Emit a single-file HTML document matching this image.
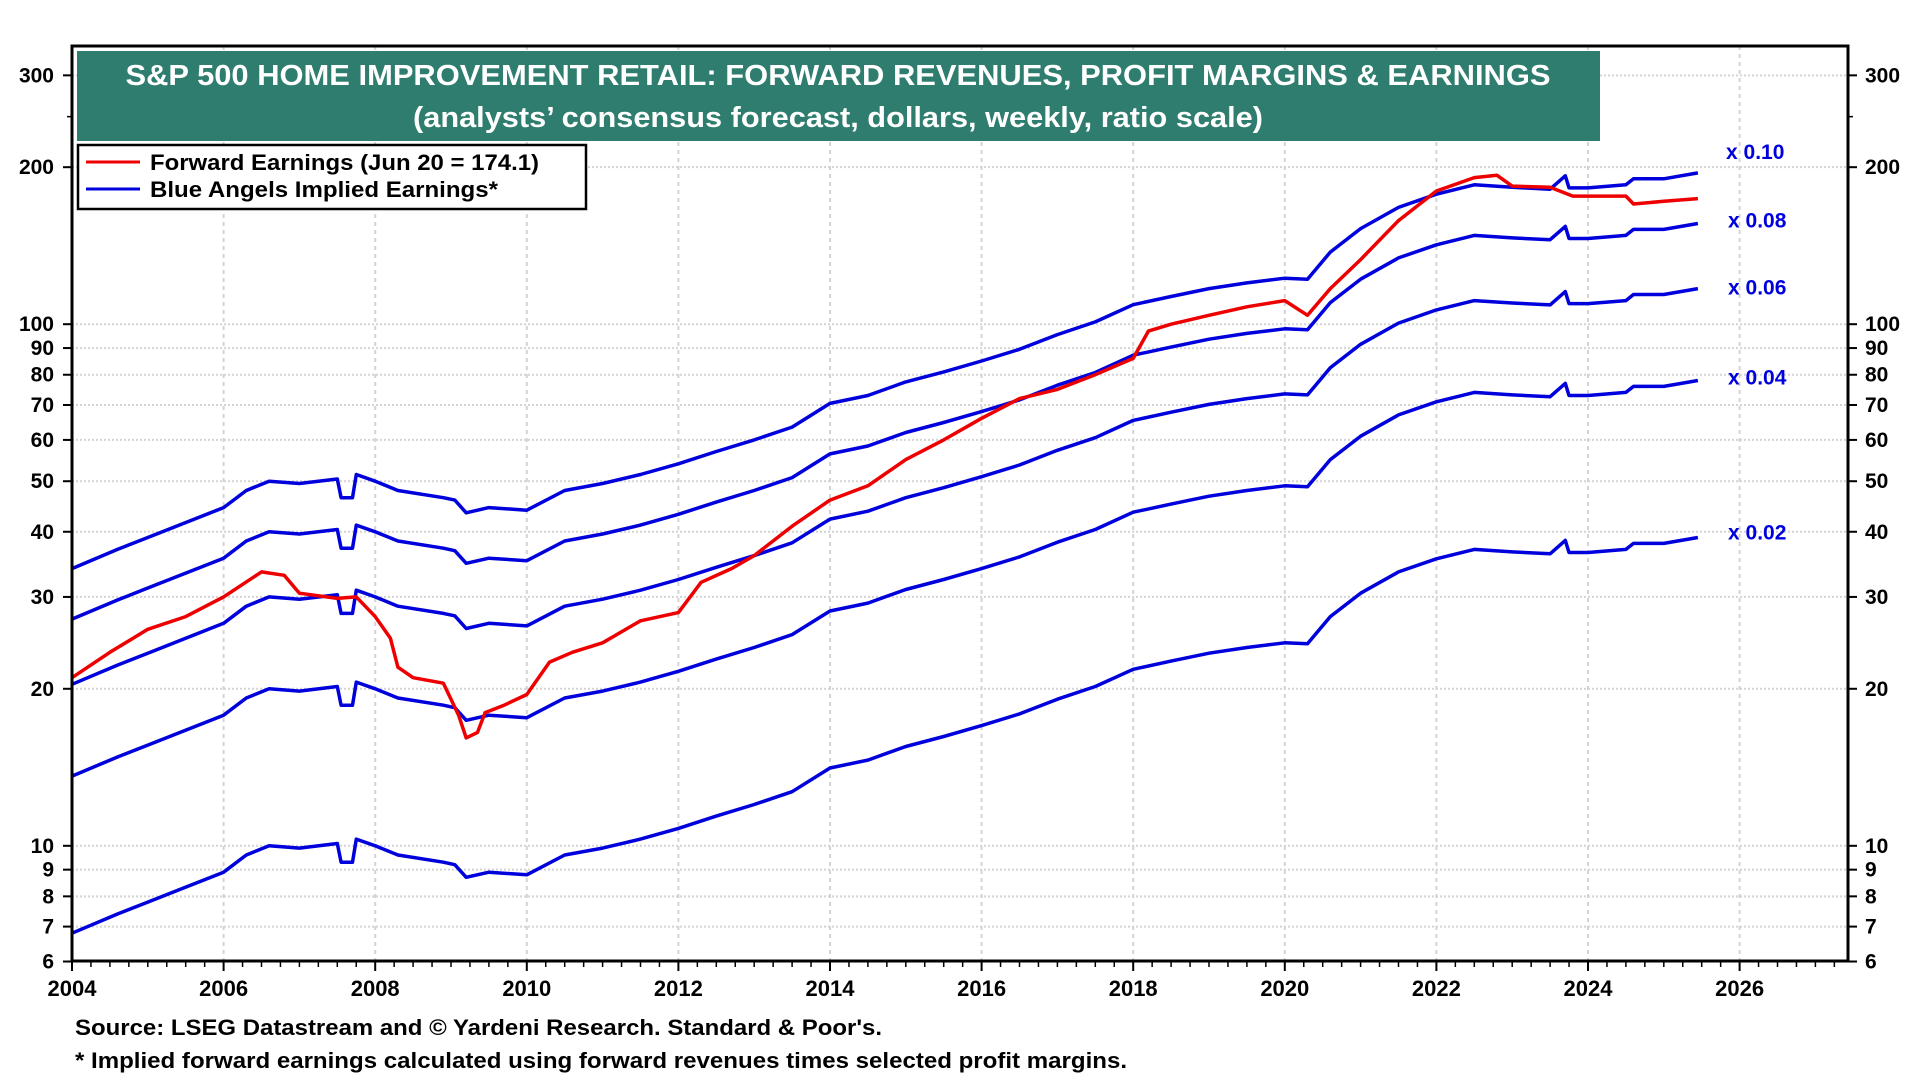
<!DOCTYPE html>
<html><head><meta charset="utf-8">
<style>
html,body{margin:0;padding:0;background:#fff;}
svg{display:block;font-family:"Liberation Sans",Arial,sans-serif;font-weight:bold;}
</style></head>
<body>
<svg id="chart" width="1920" height="1080" viewBox="0 0 1920 1080" xmlns="http://www.w3.org/2000/svg">
<g id="grid"></g>
<g id="series"></g>
<g id="axes"></g>
<rect x="77" y="51" width="1523" height="90" fill="#2e7d6f"/>
<text x="838" y="85" text-anchor="middle" fill="#fff" font-size="29" textLength="1425" lengthAdjust="spacingAndGlyphs">S&amp;P 500 HOME IMPROVEMENT RETAIL: FORWARD REVENUES, PROFIT MARGINS &amp; EARNINGS</text>
<text x="838" y="127" text-anchor="middle" fill="#fff" font-size="29" textLength="850" lengthAdjust="spacingAndGlyphs">(analysts’ consensus forecast, dollars, weekly, ratio scale)</text>
<g>
<rect x="78" y="145" width="508" height="64" fill="#fff" stroke="#000" stroke-width="2.5"/>
<line x1="86" y1="162" x2="140" y2="162" stroke="#e00" stroke-width="3"/>
<text x="150" y="170" font-size="22" textLength="389" lengthAdjust="spacingAndGlyphs">Forward Earnings (Jun 20 = 174.1)</text>
<line x1="86" y1="189" x2="140" y2="189" stroke="#0000dd" stroke-width="3"/>
<text x="150" y="197" font-size="22" textLength="348" lengthAdjust="spacingAndGlyphs">Blue Angels Implied Earnings*</text>
</g>
<text x="75" y="1035" font-size="22" textLength="807" lengthAdjust="spacingAndGlyphs">Source: LSEG Datastream and © Yardeni Research. Standard &amp; Poor's.</text>
<text x="75" y="1068" font-size="22" textLength="1052" lengthAdjust="spacingAndGlyphs">* Implied forward earnings calculated using forward revenues times selected profit margins.</text>
</svg>
<script>
const revYears=[2004,2004.6,2005,2006,2006.3,2006.6,2007,2007.5,2007.55,2007.7,2007.75,2008,2008.3,2008.9,2009.05,2009.2,2009.5,2010,2010.5,2011,2011.5,2012,2012.5,2013,2013.5,2014,2014.5,2015,2015.5,2016,2016.5,2017,2017.5,2018,2018.5,2019,2019.5,2020,2020.3,2020.6,2021,2021.5,2022,2022.5,2023,2023.5,2023.7,2023.75,2024,2024.5,2024.6,2025,2025.45];
const revValues=[340,370,390,445,480,500,495,505,465,465,515,500,480,465,460,435,445,440,480,495,515,540,570,600,635,705,730,775,810,850,895,955,1010,1090,1130,1170,1200,1225,1220,1375,1525,1675,1775,1850,1830,1815,1925,1825,1825,1850,1900,1900,1950];
const margins=[0.10,0.08,0.06,0.04,0.02];
const marginLabels=["x 0.10","x 0.08","x 0.06","x 0.04","x 0.02"];
const fwdYears=[2004,2004.5,2005,2005.5,2006,2006.5,2006.8,2007,2007.5,2007.75,2008,2008.2,2008.3,2008.5,2008.9,2009.1,2009.2,2009.35,2009.45,2009.7,2010,2010.3,2010.6,2011,2011.5,2012,2012.3,2012.7,2013,2013.5,2014,2014.5,2015,2015.5,2016,2016.5,2017,2017.5,2018,2018.2,2018.5,2019,2019.5,2020,2020.3,2020.6,2021,2021.5,2022,2022.5,2022.8,2023,2023.5,2023.8,2024,2024.5,2024.6,2025,2025.45];
const fwdValues=[21,23.5,26,27.5,30,33.5,33,30.5,29.8,30,27.5,25,22,21,20.5,17.8,16.1,16.5,18,18.6,19.5,22.5,23.5,24.5,27,28,32,34,36,41,46,49,55,60,66,72,75,80,86,97,100,104,108,111,104,117,133,158,180,191,193,184,183,176,176,176,170,172,174.1];
const yTicks=[6,7,8,9,10,20,30,40,50,60,70,80,90,100,200,300];
const xTicks=[2004,2006,2008,2010,2012,2014,2016,2018,2020,2022,2024,2026];

const NS="http://www.w3.org/2000/svg";
const L=72,R=1848,T=46,B=961;
function xs(y){return 72+(y-2004)*75.8;}
function ys(v){return 845.8-(Math.log10(v)-1)*521.6;}
function mk(tag,attrs,parent){const e=document.createElementNS(NS,tag);for(const k in attrs)e.setAttribute(k,attrs[k]);parent.appendChild(e);return e;}
const grid=document.getElementById('grid'),series=document.getElementById('series'),axes=document.getElementById('axes');

yTicks.forEach(v=>{if(v===6)return;const y=ys(v);
 const g=mk('line',{x1:L,x2:R,y1:y,y2:y,stroke:'#d4d4d4','stroke-width':2,'stroke-dasharray':'2,2'},grid);
 
 });
xTicks.forEach(t=>{if(t===2004)return;const x=xs(t);
 const g=mk('line',{x1:x,x2:x,y1:T,y2:B,stroke:'#d4d4d4','stroke-width':2,'stroke-dasharray':'4,4'},grid);
 
 });

margins.forEach((m,i)=>{
 const pts=revYears.map((yr,j)=>xs(yr).toFixed(1)+','+ys(revValues[j]*m).toFixed(1)).join(' ');
 const p=mk('polyline',{points:pts,fill:'none',stroke:'#0000dd','stroke-width':3.5,'stroke-linejoin':'round'},series);
 
 
 const lastV=revValues[revValues.length-1]*m;
 const t=mk('text',{x:1726+(i>=1?2:0),y:ys(lastV)-(i===0?14:i===1?-4:i===4?-2:0)+ (i===2?6:i===3?4:0),fill:'#0000dd','font-size':21},series);
 t.textContent=marginLabels[i];
 
 
});
const fp=mk('polyline',{points:fwdYears.map((yr,j)=>xs(yr).toFixed(1)+','+ys(fwdValues[j]).toFixed(1)).join(' '),fill:'none',stroke:'#e00','stroke-width':3.5,'stroke-linejoin':'round'},series);



const fr=mk('rect',{x:L,y:T,width:R-L,height:B-T,fill:'none',stroke:'#000','stroke-width':3},axes);


const minors=[];for(let d of [1,10,100])for(let k=1;k<10;k++){const v=d*k;if(v>=6&&v<=340)minors.push(v);}
for(let k=2;k<10;k++){minors.push(100*k+50);}
minors.forEach(v=>{if(v>340)return;const y=ys(v);
 mk('line',{x1:L-5,x2:L,y1:y,y2:y,stroke:'#000','stroke-width':1.5},axes);
 mk('line',{x1:R,x2:R+5,y1:y,y2:y,stroke:'#000','stroke-width':1.5},axes);});
yTicks.forEach(v=>{const y=ys(v);
 mk('line',{x1:L-9,x2:L,y1:y,y2:y,stroke:'#000','stroke-width':2},axes);
 mk('line',{x1:R,x2:R+9,y1:y,y2:y,stroke:'#000','stroke-width':2},axes);
 const a=mk('text',{x:54,y:y+7,'text-anchor':'end','font-size':21},axes);a.textContent=v;
 
 
 const b=mk('text',{x:1865,y:y+7,'font-size':21},axes);b.textContent=v;
 
 });
for(let q=2004;q<=2027.4;q+=0.25){const x=xs(q);const maj=Math.abs(q%2)<1e-6;
 mk('line',{x1:x,x2:x,y1:B,y2:B+(maj?10:6),stroke:'#000','stroke-width':maj?2:1.5},axes);}
xTicks.forEach(t=>{const a=mk('text',{x:xs(t),y:996,'text-anchor':'middle','font-size':22},axes);a.textContent=t;
 
 });
</script>
</body></html>
